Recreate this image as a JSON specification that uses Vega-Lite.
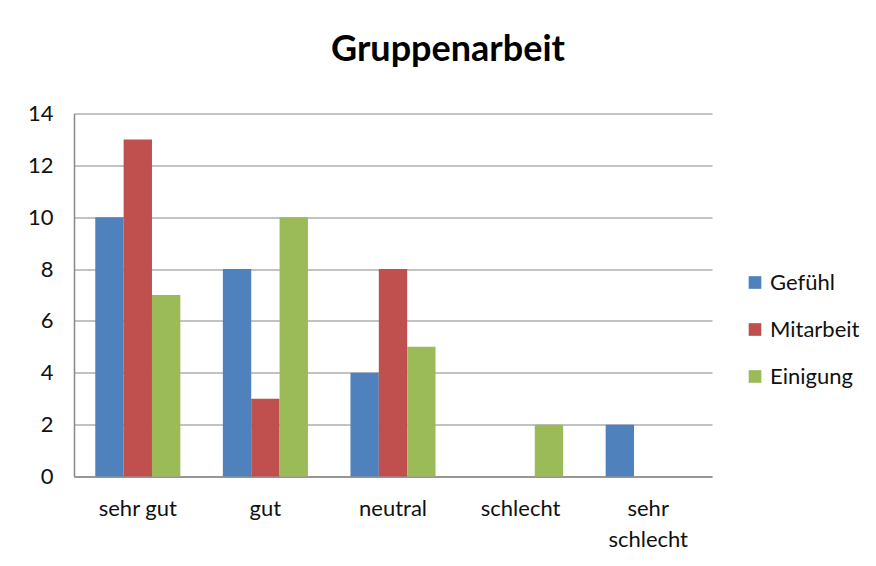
{
  "$schema": "https://vega.github.io/schema/vega-lite/v6.json",
  "autosize": {"type": "none"},
  "width": 638,
  "height": 363,
  "padding": {"left": 74, "top": 113.5, "right": 164, "bottom": 89.5},
  "background": "white",
  "title": {
    "text": "Gruppenarbeit",
    "font": "Lato",
    "fontSize": 36,
    "fontWeight": "bold",
    "color": "#000000",
    "anchor": "middle",
    "frame": "group",
    "dx": 55,
    "baseline": "alphabetic",
    "offset": 6
  },
  "data": {
    "values": [
      {"Bewertung": "sehr gut", "Serie": "Gefühl", "Wert": 10},
      {"Bewertung": "sehr gut", "Serie": "Mitarbeit", "Wert": 13},
      {"Bewertung": "sehr gut", "Serie": "Einigung", "Wert": 7},
      {"Bewertung": "gut", "Serie": "Gefühl", "Wert": 8},
      {"Bewertung": "gut", "Serie": "Mitarbeit", "Wert": 3},
      {"Bewertung": "gut", "Serie": "Einigung", "Wert": 10},
      {"Bewertung": "neutral", "Serie": "Gefühl", "Wert": 4},
      {"Bewertung": "neutral", "Serie": "Mitarbeit", "Wert": 8},
      {"Bewertung": "neutral", "Serie": "Einigung", "Wert": 5},
      {"Bewertung": "schlecht", "Serie": "Gefühl", "Wert": 0},
      {"Bewertung": "schlecht", "Serie": "Mitarbeit", "Wert": 0},
      {"Bewertung": "schlecht", "Serie": "Einigung", "Wert": 2},
      {"Bewertung": "sehr schlecht", "Serie": "Gefühl", "Wert": 2},
      {"Bewertung": "sehr schlecht", "Serie": "Mitarbeit", "Wert": 0},
      {"Bewertung": "sehr schlecht", "Serie": "Einigung", "Wert": 0}
    ]
  },
  "mark": {"type": "bar"},
  "encoding": {
    "x": {
      "field": "Bewertung",
      "type": "nominal",
      "sort": ["sehr gut", "gut", "neutral", "schlecht", "sehr schlecht"],
      "scale": {"paddingInner": 0.3333, "paddingOuter": 0.1667},
      "axis": {
        "title": null,
        "labelAngle": 0,
        "labelFont": "Lato",
        "labelFontSize": 22,
        "labelColor": "#111111",
        "labelPadding": 22,
        "labelLineHeight": 31,
        "ticks": false,
        "domainColor": "#888888",
        "domainWidth": 1.5,
        "labelExpr": "datum.label == 'sehr schlecht' ? ['sehr', 'schlecht'] : datum.label"
      }
    },
    "xOffset": {
      "field": "Serie",
      "type": "nominal",
      "sort": ["Gefühl", "Mitarbeit", "Einigung"],
      "scale": {"paddingInner": 0, "paddingOuter": 0}
    },
    "y": {
      "field": "Wert",
      "type": "quantitative",
      "scale": {"domain": [0, 14]},
      "axis": {
        "title": null,
        "values": [0, 2, 4, 6, 8, 10, 12, 14],
        "labelFont": "Lato",
        "labelFontSize": 22,
        "labelColor": "#111111",
        "labelPadding": 21,
        "ticks": false,
        "domainColor": "#888888",
        "domainWidth": 1.5,
        "gridColor": "#868686",
        "gridWidth": 1.2
      }
    },
    "color": {
      "field": "Serie",
      "type": "nominal",
      "sort": ["Gefühl", "Mitarbeit", "Einigung"],
      "scale": {
        "domain": ["Gefühl", "Mitarbeit", "Einigung"],
        "range": ["#4F81BD", "#C0504D", "#9BBB59"]
      },
      "legend": {
        "title": null,
        "orient": "none",
        "legendX": 670,
        "legendY": 158,
        "symbolType": "square",
        "symbolSize": 160,
        "symbolStrokeWidth": 0,
        "labelFont": "Lato",
        "labelFontSize": 22,
        "labelColor": "#111111",
        "labelOffset": 4,
        "rowPadding": 25
      }
    }
  },
  "config": {
    "view": {"stroke": null}
  }
}
